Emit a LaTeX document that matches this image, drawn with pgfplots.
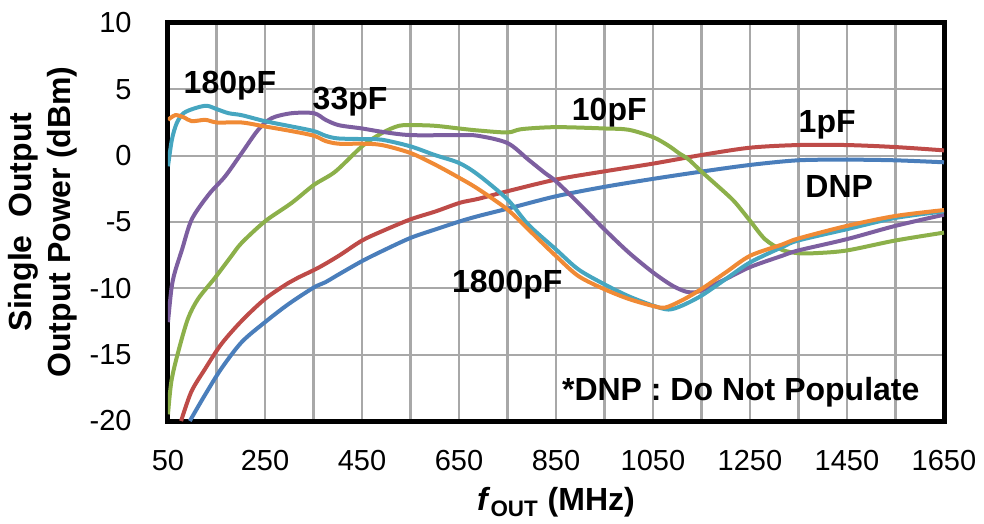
\documentclass[border=0pt]{standalone}
\usepackage{pgfplots}
\pgfplotsset{compat=1.18}
\usepackage{fontspec}
\setmainfont{Liberation Sans}
\definecolor{cDNP}{HTML}{4A7EBB}
\definecolor{cOne}{HTML}{BE4B48}
\definecolor{cTen}{HTML}{8CB04A}
\definecolor{cThree}{HTML}{7D5FA0}
\definecolor{cOneEight}{HTML}{46A6C0}
\definecolor{cEighteen}{HTML}{F08A35}
\definecolor{gridgray}{HTML}{A8A8A8}
\begin{document}
\begin{tikzpicture}
\begin{axis}[
  at={(0,0)}, anchor=south west,
  scale only axis, width=388pt, height=199pt,
  xmin=50, xmax=1650, ymin=-20, ymax=10,
  xtick={50,250,...,1650}, minor xtick={150,350,...,1550},
  ytick={-20,-15,...,10},
  xmajorgrids=true, xminorgrids=true, ymajorgrids=true,
  grid style={draw=gridgray, line width=1.1pt},
  axis line style={line width=2.5pt, black},
  tick align=inside,
  major tick length=1pt, minor tick length=1pt,
  tick label style={font=\fontsize{14.5}{16}\selectfont},
  /pgf/number format/assume math mode=true,
  /pgf/number format/1000 sep={},
  yticklabel style={inner sep=0pt, xshift=-18pt},
  xticklabel style={inner sep=0pt, yshift=-14.5pt},
  xlabel={\textit{f}\textsubscript{OUT} (MHz)},
  xlabel style={font=\bfseries\fontsize{16}{19}\selectfont, at={(axis description cs:0.5,-0.205)}, anchor=center},
  ylabel={Single\ \ Output\\Output Power (dBm)},
  ylabel style={font=\bfseries\fontsize{16}{19.5}\selectfont, align=center, at={(axis description cs:-0.1617,0.5)}, anchor=center},
]
% DNP
\addplot[cDNP, line width=2pt, smooth, tension=0.5, mark=none] coordinates {(95,-20) (126,-18.05) (160,-16.05) (202,-14.05) (250,-12.55) (298,-11.2) (350,-9.95) (374,-9.55) (402,-8.95) (450,-7.95) (491,-7.2) (550,-6.2) (602,-5.55) (652,-4.95) (689,-4.56) (750,-4.0) (850,-3.06) (950,-2.35) (1050,-1.75) (1150,-1.2) (1250,-0.7) (1349,-0.35) (1449,-0.3) (1549,-0.35) (1650,-0.5)};
% 1pF
\addplot[cOne, line width=2pt, smooth, tension=0.5, mark=none] coordinates {(77,-20) (98,-17.8) (126,-16.1) (160,-14.2) (202,-12.45) (250,-10.8) (298,-9.6) (318,-9.2) (360,-8.45) (402,-7.55) (450,-6.4) (491,-5.7) (550,-4.8) (602,-4.2) (652,-3.55) (689,-3.26) (750,-2.68) (850,-1.8) (950,-1.18) (1050,-0.6) (1150,0.05) (1250,0.6) (1349,0.8) (1449,0.8) (1549,0.65) (1650,0.4)};
% 10pF
\addplot[cTen, line width=2pt, smooth, tension=0.5, mark=none] coordinates {(50,-19.5) (57,-17) (71,-14.8) (91,-12.3) (112,-10.8) (147,-9.2) (181,-7.55) (202,-6.57) (250,-4.95) (305,-3.56) (351,-2.2) (395,-1.2) (450,0.7) (491,1.7) (526,2.25) (560,2.3) (601,2.25) (650,2.05) (689,1.9) (750,1.75) (779,2.0) (850,2.15) (950,2.05) (1000,1.95) (1050,1.4) (1082,0.75) (1103,0.2) (1124,-0.3) (1150,-1.2) (1199,-2.8) (1220,-3.55) (1250,-4.9) (1281,-6.3) (1316,-7.1) (1349,-7.35) (1384,-7.35) (1449,-7.15) (1549,-6.4) (1650,-5.8)};
% 33pF
\addplot[cThree, line width=2pt, smooth, tension=0.5, mark=none] coordinates {(50,-12.55) (57,-10.05) (64,-8.8) (79,-7.07) (99,-4.8) (134,-2.93) (168,-1.55) (202,0.2) (236,1.95) (264,2.83) (305,3.2) (351,3.2) (375,2.7) (402,2.3) (450,2.05) (491,1.8) (550,1.55) (650,1.55) (689,1.5) (750,0.95) (793,-0.3) (827,-1.3) (850,-1.93) (896,-3.56) (950,-5.56) (1000,-7.3) (1050,-8.8) (1090,-9.8) (1118,-10.25) (1137,-10.3) (1157,-10.05) (1200,-9.3) (1250,-8.4) (1316,-7.55) (1349,-7.15) (1449,-6.3) (1549,-5.3) (1650,-4.45)};
% 180pF
\addplot[cOneEight, line width=2pt, smooth, tension=0.5, mark=none] coordinates {(50,-0.8) (58,1.2) (68,2.45) (82,3.2) (106,3.58) (130,3.76) (151,3.5) (175,3.2) (202,3.05) (250,2.6) (305,2.2) (351,1.85) (375,1.5) (400,1.3) (450,1.25) (491,1.2) (550,0.7) (600,0.05) (650,-0.55) (689,-1.43) (750,-3.3) (793,-5.2) (850,-7.07) (896,-8.57) (950,-9.7) (1000,-10.6) (1050,-11.3) (1082,-11.6) (1110,-11.3) (1150,-10.55) (1200,-9.3) (1250,-8.05) (1316,-6.9) (1349,-6.4) (1449,-5.55) (1549,-4.7) (1650,-4.2)};
% 1800pF
\addplot[cEighteen, line width=2pt, smooth, tension=0.5, mark=none] coordinates {(50,2.7) (65,3.05) (82,2.9) (99,2.6) (127,2.7) (151,2.5) (202,2.5) (250,2.2) (305,1.85) (351,1.5) (375,1.1) (402,0.9) (450,0.9) (491,0.8) (550,0.2) (602,-0.7) (652,-1.7) (689,-2.5) (750,-4.06) (793,-5.56) (850,-7.57) (896,-9.07) (950,-10.07) (1000,-10.8) (1050,-11.33) (1075,-11.45) (1110,-10.9) (1150,-10.05) (1200,-8.8) (1250,-7.55) (1316,-6.7) (1349,-6.25) (1449,-5.3) (1549,-4.55) (1650,-4.1)};
\begin{scope}[every node/.style={anchor=base west, inner sep=0pt, font=\bfseries\fontsize{16}{19}\selectfont}]
\node at (axis cs:81.6,4.71) {180pF};
\node at (axis cs:347.6,3.46) {33pF};
\node at (axis cs:882,2.65) {10pF};
\node at (axis cs:1349.6,1.75) {1pF};
\node at (axis cs:1363.4,-3.18) {DNP};
\node at (axis cs:635,-10.28) {1800pF};
\node at (axis cs:861.7,-18.47) {*DNP : Do Not Populate};
\end{scope}
\end{axis}
\pgfresetboundingbox
\path[use as bounding box] (-84pt,-51.5pt) rectangle (408pt,210.5pt);
\end{tikzpicture}
\end{document}
